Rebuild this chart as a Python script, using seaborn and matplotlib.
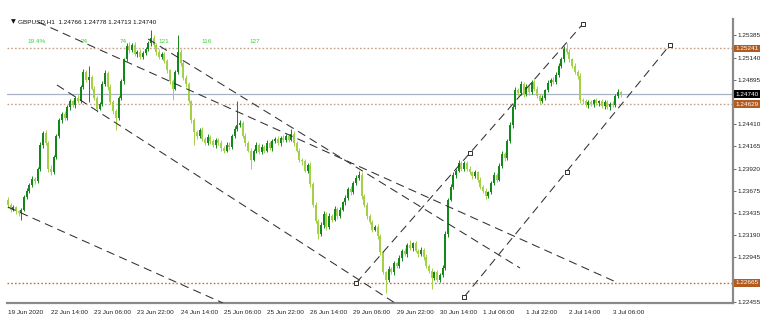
import matplotlib
matplotlib.use("Agg")
import matplotlib.pyplot as plt
import matplotlib.transforms as mtransforms
import seaborn as sns
import numpy as np
import pandas as pd

# ---------------- data ----------------
first_open = 1.2358
closes = [
    1.2352, 1.2347, 1.2350, 1.2345, 1.2343, 1.2347, 1.2361, 1.2368, 1.2374, 1.2381,
    1.2378, 1.2392, 1.2418, 1.2431, 1.2420, 1.2392, 1.2388, 1.2405, 1.2428, 1.2445,
    1.2452, 1.2448, 1.2460, 1.2466, 1.2462, 1.2470, 1.2466, 1.2482, 1.2498, 1.2490,
    1.2493, 1.2480, 1.2470, 1.2458, 1.2463, 1.2485, 1.2497, 1.2482, 1.2465, 1.2455,
    1.2448, 1.2470, 1.2488, 1.2512, 1.2527, 1.2522, 1.2528, 1.2518, 1.2520, 1.2515,
    1.2519, 1.2523, 1.2530, 1.2536, 1.2528, 1.2520, 1.2515, 1.2518, 1.2510, 1.2500,
    1.2488, 1.2480, 1.2498, 1.2520, 1.2508, 1.2492, 1.2485, 1.2466, 1.2445, 1.2432,
    1.2428, 1.2435, 1.2425, 1.2420, 1.2427, 1.2422, 1.2418, 1.2424, 1.2420, 1.2415,
    1.2412, 1.2418, 1.2416, 1.2428, 1.2436, 1.2440, 1.2442, 1.2428, 1.2420, 1.2412,
    1.2402, 1.2412, 1.2418, 1.2410, 1.2416, 1.2412, 1.2420, 1.2415, 1.2422, 1.2425,
    1.2420, 1.2426, 1.2423, 1.2428, 1.2424, 1.2430, 1.2420, 1.2412, 1.2402, 1.2400,
    1.2390, 1.2396, 1.2375, 1.2352, 1.2335, 1.2320, 1.2330, 1.2342, 1.2328, 1.2340,
    1.2336, 1.2348, 1.2340, 1.2347, 1.2355, 1.2360, 1.2370, 1.2366, 1.2376, 1.2382,
    1.2385, 1.2362, 1.2352, 1.2340, 1.2333, 1.2325, 1.2328, 1.2318, 1.2300, 1.2278,
    1.2270, 1.2282, 1.2278, 1.2288, 1.2285, 1.2294, 1.2302, 1.2298, 1.2308, 1.2305,
    1.2310, 1.2302, 1.2298, 1.2303, 1.2295, 1.2285, 1.2280, 1.2272, 1.2278, 1.2270,
    1.2275, 1.2283, 1.2320, 1.2358, 1.2372, 1.2385, 1.2390, 1.2398, 1.2392, 1.2398,
    1.2392, 1.2388, 1.2384, 1.2388, 1.2380, 1.2372, 1.2368, 1.2362, 1.2366, 1.2376,
    1.2385, 1.2380, 1.2395, 1.2408, 1.2404, 1.2422, 1.2440, 1.2460, 1.2478, 1.2475,
    1.2485, 1.2474, 1.2482, 1.2476, 1.2487, 1.2480, 1.2472, 1.2466, 1.2470, 1.2478,
    1.2486, 1.2490, 1.2487, 1.2495, 1.2505, 1.2512, 1.2524, 1.2520, 1.2512, 1.2505,
    1.2498, 1.2494, 1.2468, 1.2466, 1.2462, 1.2465, 1.2463, 1.2467, 1.2464, 1.2466,
    1.2461, 1.2465, 1.2460, 1.2463, 1.2462, 1.2472, 1.24766, 1.24740,
]
# wick lengths in pips above max(open, close) / below min(open, close)
wick_up = [
    3, 2, 2, 1, 2, 2, 2, 3, 2, 3,
    2, 2, 3, 2, 3, 2, 4, 2, 2, 3,
    2, 3, 2, 3, 2, 2, 3, 2, 4, 3,
    12, 2, 3, 2, 2, 3, 4, 2, 3, 2,
    3, 2, 3, 2, 3, 4, 2, 3, 2, 3,
    2, 3, 2, 8, 3, 2, 3, 2, 2, 3,
    2, 3, 3, 19, 3, 2, 3, 2, 2, 3,
    3, 2, 3, 2, 3, 2, 3, 2, 2, 3,
    2, 3, 3, 2, 3, 26, 3, 2, 3, 2,
    3, 2, 3, 2, 3, 2, 3, 2, 3, 2,
    3, 2, 3, 2, 2, 6, 3, 2, 3, 2,
    3, 2, 3, 2, 3, 2, 3, 3, 2, 3,
    2, 3, 2, 3, 2, 3, 2, 3, 2, 3,
    5, 3, 2, 3, 2, 3, 2, 3, 2, 2,
    2, 3, 2, 3, 2, 3, 2, 3, 2, 6,
    2, 3, 2, 3, 2, 3, 2, 3, 2, 3,
    2, 3, 3, 2, 3, 3, 2, 4, 2, 3,
    2, 3, 2, 3, 2, 3, 2, 3, 2, 3,
    3, 2, 3, 3, 2, 3, 3, 3, 4, 3,
    3, 2, 3, 2, 3, 2, 3, 2, 3, 2,
    3, 2, 3, 3, 3, 3, 3, 6, 3, 2,
    3, 2, 3, 2, 3, 2, 3, 2, 3, 2,
    3, 2, 3, 2, 3, 2, 3.4, 1.2,
]
wick_dn = [
    3, 3, 2, 3, 3, 7, 2, 2, 3, 2,
    3, 2, 2, 3, 2, 4, 3, 2, 2, 2,
    3, 2, 2, 3, 2, 3, 2, 2, 2, 3,
    25, 2, 3, 4, 2, 2, 2, 3, 2, 3,
    14, 2, 2, 3, 2, 3, 2, 2, 3, 2,
    3, 2, 2, 3, 2, 3, 2, 3, 2, 3,
    3, 13, 2, 2, 3, 2, 3, 2, 3, 14,
    3, 2, 3, 2, 2, 3, 2, 3, 2, 3,
    3, 2, 3, 2, 2, 3, 2, 2, 3, 2,
    10, 2, 3, 2, 2, 3, 2, 2, 3, 2,
    2, 3, 2, 2, 3, 2, 3, 2, 3, 4,
    2, 3, 3, 2, 3, 5, 2, 3, 3, 2,
    3, 2, 3, 2, 2, 3, 2, 3, 2, 2,
    2, 3, 2, 3, 2, 3, 2, 3, 3, 2,
    15, 3, 2, 3, 2, 2, 3, 2, 3, 2,
    3, 2, 3, 2, 3, 2, 3, 12, 2, 3,
    3, 2, 2, 3, 2, 2, 3, 2, 3, 2,
    3, 2, 3, 2, 3, 2, 3, 3, 2, 2,
    2, 3, 2, 2, 3, 2, 2, 3, 2, 3,
    2, 3, 2, 3, 2, 3, 2, 3, 2, 2,
    2, 3, 2, 2, 2, 2, 3, 2, 3, 2,
    2, 3, 4, 3, 2, 3, 2, 3, 2, 3,
    2, 3, 2, 3, 2, 2, 2, 2.7,
]

x_tick_bars = [0, 16, 32, 48, 64, 80, 96, 112, 128, 144, 160, 176, 192, 208, 224]
x_tick_labels = ["19 Jun 2020", "22 Jun 14:00", "23 Jun 06:00", "23 Jun 22:00",
                 "24 Jun 14:00", "25 Jun 06:00", "25 Jun 22:00", "26 Jun 14:00",
                 "29 Jun 06:00", "29 Jun 22:00", "30 Jun 14:00", "1 Jul 06:00",
                 "1 Jul 22:00", "2 Jul 14:00", "3 Jul 06:00"]
y_ticks = [1.25385, 1.25140, 1.24895, 1.24650, 1.24410, 1.24165, 1.23920,
           1.23675, 1.23435, 1.23190, 1.22945, 1.22700, 1.22455]
y_hidden = [1.24650, 1.22700]   # tick labels covered by the price boxes

level_lines = [1.25241, 1.24629, 1.22665]
level_colors = ["#c9a28c", "#c9a28c", "#c8703c"]
current_price = 1.24740

header = "GBPUSD,H1  1.24766 1.24778 1.24713 1.24740"
marker_labels = ["19.4%", "24", "74", "121", "116", "127"]
marker_bars = [10.7, 28.2, 42.7, 57.9, 73.8, 91.5]
marker_price = 1.25323

# trend lines: (bar index, price) anchors
trend_down = [
    [(11.2, 1.25532), (226.0, 1.22665)],
    [(52.0, 1.25345), (189.7, 1.22829)],
    [(18.2, 1.24840), (143.4, 1.22444)],
    [(0.0, 1.23499), (79.7, 1.22444)],
]
trend_up = [
    [(129.0, 1.22664), (213.0, 1.25510)],
    [(169.0, 1.22510), (245.2, 1.25279)],
]
anchor_bars = [129.0, 171.2, 213.0, 169.0, 207.1, 245.2]
anchor_prices = [1.22664, 1.24093, 1.25510, 1.22510, 1.23884, 1.25279]

# ---------------- build table ----------------
n = len(closes)
opens = [first_open] + closes[:-1]
df = pd.DataFrame({"bar": np.arange(n), "open": opens, "close": closes,
                   "wu": wick_up, "wd": wick_dn})
df["top"] = df[["open", "close"]].max(axis=1)
df["bot"] = df[["open", "close"]].min(axis=1)
df["high"] = df["top"] + df["wu"] * 1e-4
df["low"] = df["bot"] - df["wd"] * 1e-4
df["bull"] = df["close"] > df["open"]

BULL = "#12881a"
BEAR = "#a3d046"
df["color"] = np.where(df["bull"], BULL, BEAR)

# ---------------- plot ----------------
sns.set_style("white")
plt.rcParams['font.family'] = ['Liberation Sans', 'DejaVu Sans']

W, H = 776, 329
fig = plt.figure(figsize=(W / 100, H / 100), dpi=100)
left_px, right_px, top_px, bot_px = 7, 733, 19, 303.3
ax = fig.add_axes([left_px / W, 1 - bot_px / H, (right_px - left_px) / W,
                   (bot_px - top_px) / H])

px_per_bar = 2.7
x0 = (left_px - 7.8) / px_per_bar
ax.set_xlim(x0, x0 + (right_px - left_px) / px_per_bar)
ax.set_ylim(1.22441, 1.25565)

# levels
for lvl, col in zip(level_lines, level_colors):
    ax.axhline(lvl, color=col, lw=1.0, ls=(0, (1.2, 1.5)), zorder=1)
ax.axhline(current_price, color="#a8b2c0", lw=0.9, zorder=1)

# candles
ax.vlines(df["bar"], df["low"], df["high"], colors=df["color"], lw=0.7, zorder=2)
ax.bar(df["bar"], np.maximum(df["top"] - df["bot"], 0.00004), bottom=df["bot"],
       width=0.72, color=df["color"], linewidth=0, zorder=3)

# trend lines
for seg in trend_down + trend_up:
    xs = [p[0] for p in seg]
    ys = [p[1] for p in seg]
    ax.plot(xs, ys, color="#303030", lw=0.75, ls=(0, (8, 5)), zorder=4)

sns.scatterplot(x=anchor_bars, y=anchor_prices, marker="s", s=9, color="white",
                edgecolor="#303030", linewidth=0.7, ax=ax, zorder=6)

# marker labels
for b, t in zip(marker_bars, marker_labels):
    ax.text(b, marker_price, t, color="#3ad43a", fontsize=4.6, ha="center",
            va="center", zorder=6)

# axes styling
for s in ["top", "left"]:
    ax.spines[s].set_visible(False)
for s in ["right", "bottom"]:
    ax.spines[s].set_color("#8a8a8a")
    ax.spines[s].set_linewidth(1.6)

ax.yaxis.tick_right()
ax.set_yticks(y_ticks)
ax.set_yticklabels(["" if v in y_hidden else f"{v:.5f}" for v in y_ticks])
ax.tick_params(axis="y", length=2, width=0.6, color="#555555", labelsize=4.6,
               pad=1.5, labelcolor="#222222")
ax.set_xticks(x_tick_bars)
ax.set_xticklabels(x_tick_labels, ha="left")
ax.tick_params(axis="x", length=3, width=0.6, color="#555555", labelsize=4.6,
               pad=1.5, labelcolor="#222222")
ax.set_xlabel("")
ax.set_ylabel("")

# price boxes on the right axis
trans = mtransforms.blended_transform_factory(ax.transAxes, ax.transData)
box_x = 1 + 2.5 / (right_px - left_px)
for lvl, fc in [(level_lines[0], "#b35a20"), (current_price, "#000000"),
                (level_lines[1], "#b35a20"), (level_lines[2], "#b35a20")]:
    ax.text(box_x, lvl, f"{lvl:.5f}", transform=trans, color="white", fontsize=4.6,
            ha="left", va="center", zorder=10, clip_on=False,
            bbox=dict(facecolor=fc, edgecolor="none", boxstyle="square,pad=0.22"))

# header
fig.text(11 / W, 1 - 22 / H, "\u25bc", fontsize=4.5, va="center", ha="left",
         color="#111111", family=["DejaVu Sans"])
fig.text(18 / W, 1 - 22 / H, header, fontsize=4.6, va="center", ha="left",
         color="#111111")

fig.savefig("out.png", dpi=100)
